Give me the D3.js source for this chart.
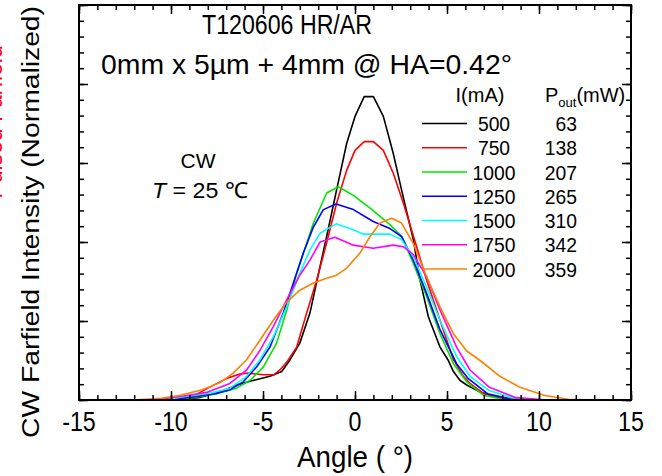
<!DOCTYPE html>
<html>
<head>
<meta charset="utf-8">
<script src="https://cdn.jsdelivr.net/npm/d3@7"></script>
<style>
  body { margin: 0; background: #fff; }
  text { font-family: "Liberation Sans", Arial, Helvetica, sans-serif; fill: #000; }
</style>
</head>
<body>
<svg id="chart" width="662" height="476"></svg>
<script>
const w = 662,
      h = 476;
const margin = {left: 79, right: 31, top: 5, bottom: 76};

// series: [angle (deg), intensity (axis units)]
const s500  = [[-10,0],[-8.5,0.03],[-7.34,0.1],[-6.43,0.19],[-5.5,0.25],[-4.62,0.3],[-3.98,0.36],[-3.53,0.51],[-3,0.72],[-2.45,1.1],[-1.9,1.69],[-1.54,2.07],[-1,2.66],[-0.45,3.25],[0,3.59],[0.5,3.84],[1,3.84],[1.54,3.59],[2.08,3.12],[2.53,2.66],[3.17,2.03],[3.53,1.52],[3.99,1.05],[4.62,0.67],[5.05,0.51],[5.35,0.36],[5.7,0.25],[6.07,0.19],[6.8,0.1],[8,0.02],[9.5,0]];
const s750  = [[-10,0],[-8.86,0.04],[-8,0.15],[-6.9,0.28],[-6.25,0.33],[-5.8,0.34],[-5,0.32],[-4.4,0.32],[-4.08,0.38],[-3.71,0.48],[-3.17,0.67],[-2.63,1.1],[-2.08,1.52],[-1.54,1.99],[-1,2.49],[-0.45,2.91],[0,3.16],[0.5,3.27],[1,3.27],[1.54,3.16],[2.08,2.87],[2.63,2.49],[3.35,1.94],[3.89,1.52],[4.62,1.01],[5.35,0.51],[5.89,0.3],[6.25,0.21],[7,0.08],[8,0.02],[9.5,0]];
const s1000 = [[-10,0],[-8.86,0.03],[-7.5,0.08],[-6.43,0.15],[-5.7,0.25],[-4.98,0.42],[-4.26,0.72],[-3.71,1.14],[-3.17,1.6],[-2.63,1.98],[-2.26,2.24],[-1.9,2.43],[-1.54,2.62],[-0.9,2.7],[-0.09,2.59],[0.82,2.43],[1.9,2.22],[2.53,2.07],[3.17,1.73],[3.89,1.31],[4.62,0.84],[5.35,0.46],[6.07,0.23],[7,0.06],[8,0.01],[9.5,0]];
const s1250 = [[-10,0],[-8.86,0.04],[-7.6,0.08],[-6.8,0.13],[-6.07,0.23],[-5.34,0.42],[-4.62,0.67],[-3.9,1.1],[-3.35,1.48],[-2.81,1.86],[-2.26,2.19],[-1.72,2.41],[-1.03,2.48],[-0.09,2.41],[0.99,2.26],[1.9,2.17],[2.53,2.07],[3.17,1.77],[3.89,1.35],[4.62,0.89],[5.52,0.46],[6.16,0.27],[7.2,0.08],[8.5,0.01],[10,0]];
const s1500 = [[-10.5,0],[-9,0.05],[-7.8,0.09],[-6.8,0.15],[-5.89,0.3],[-5.16,0.51],[-4.44,0.8],[-3.71,1.18],[-3,1.6],[-2.45,1.9],[-1.9,2.11],[-1.03,2.23],[-0.27,2.17],[0.45,2.1],[1.9,2.1],[2.53,2.03],[3.17,1.81],[3.89,1.43],[4.62,1.01],[5.52,0.55],[6.25,0.3],[7.3,0.12],[8.5,0.03],[10,0]];
const s1750 = [[-11,0],[-9.3,0.05],[-8,0.1],[-6.8,0.21],[-5.89,0.38],[-5.16,0.63],[-4.44,0.93],[-3.71,1.27],[-3,1.58],[-2.45,1.77],[-1.9,2],[-1.09,2.06],[-0.09,1.96],[0.99,1.92],[2.08,1.96],[2.63,1.94],[3.17,1.84],[3.89,1.56],[4.62,1.14],[5.52,0.67],[6.25,0.38],[7.3,0.16],[8.75,0.03],[10.5,0]];
const s2000 = [[-12,0],[-10.6,0.02],[-9.5,0.06],[-8.3,0.13],[-7.34,0.22],[-6.62,0.34],[-5.89,0.51],[-5.16,0.76],[-4.44,1.01],[-3.71,1.24],[-3,1.39],[-2.26,1.48],[-1.54,1.54],[-1,1.58],[-0.45,1.67],[0.27,1.86],[0.82,2.07],[1.36,2.24],[1.99,2.3],[2.53,2.24],[3.17,1.98],[3.89,1.56],[4.62,1.18],[5.35,0.84],[6.07,0.62],[6.8,0.5],[7.88,0.3],[8.97,0.16],[10.27,0.06],[11.58,0.01],[13,0]];

const currents = ['500', '750', '1000', '1250', '1500', '1750', '2000'];
const powers   = ['63', '138', '207', '265', '310', '342', '359'];
const colors   = ['#000000', '#ff0000', '#00e600', '#0000ff', '#00ffff', '#ff00ff', '#ff8000'];
const seriesList = [s500, s750, s1000, s1250, s1500, s1750, s2000];

const xTicks = [-15, -10, -5, 0, 5, 10, 15];

const svg = d3.select('#chart');

const x = d3.scaleLinear().domain([-15, 15]).range([margin.left, w - margin.right]);
const y = d3.scaleLinear().domain([0, 5]).range([h - margin.bottom, margin.top]);

// plot curves (clipped to frame)
svg.append('clipPath').attr('id', 'clip').append('rect')
   .attr('x', x(-15)).attr('y', y(5)).attr('width', x(15) - x(-15)).attr('height', y(0) - y(5));

const line = d3.line().x(d => x(d[0])).y(d => y(d[1]));
const g = svg.append('g').attr('clip-path', 'url(#clip)');
seriesList.forEach((s, i) => {
    g.append('path').datum(s)
     .attr('d', line)
     .attr('fill', 'none')
     .attr('stroke', colors[i])
     .attr('stroke-width', 1.6)
     .attr('stroke-linejoin', 'round');
});

// axes: inward ticks on all four sides
const xMinor = d3.range(-15, 16, 1);
const yMinor = d3.range(0, 5.01, 0.2);
const tickAxis = (axisFn, scale, values, size) =>
    axisFn(scale).tickValues(values).tickSize(size).tickFormat('');

const drawAxis = (axis, tx, ty) => {
    const a = svg.append('g').attr('transform', `translate(${tx},${ty})`).call(axis);
    a.select('.domain').remove();
    a.selectAll('line').attr('stroke', '#000').attr('stroke-width', 1.5);
};
// bottom / top
drawAxis(tickAxis(d3.axisTop, x, xMinor, 5), 0, y(0));
drawAxis(tickAxis(d3.axisTop, x, xTicks, 9), 0, y(0));
drawAxis(tickAxis(d3.axisBottom, x, xMinor, 5), 0, y(5));
drawAxis(tickAxis(d3.axisBottom, x, xTicks, 9), 0, y(5));
// left / right
drawAxis(tickAxis(d3.axisRight, y, yMinor, 5), x(-15), 0);
drawAxis(tickAxis(d3.axisRight, y, d3.range(0, 6), 9), x(-15), 0);
drawAxis(tickAxis(d3.axisLeft, y, yMinor, 5), x(15), 0);
drawAxis(tickAxis(d3.axisLeft, y, d3.range(0, 6), 9), x(15), 0);

// frame
svg.append('rect')
   .attr('x', x(-15)).attr('y', y(5))
   .attr('width', x(15) - x(-15)).attr('height', y(0) - y(5))
   .attr('fill', 'none').attr('stroke', '#000').attr('stroke-width', 2);

// x tick labels (narrow, tall type like the original)
svg.append('g').selectAll('text').data(xTicks).enter().append('text')
   .attr('transform', d => `translate(${x(d)},${y(0) + 31}) scale(0.83,1)`)
   .attr('text-anchor', 'middle').attr('font-size', 28)
   .text(d => d);

svg.append('text').attr('x', 355).attr('y', 467)
   .attr('text-anchor', 'middle').attr('font-size', 30)
   .attr('textLength', 116).attr('lengthAdjust', 'spacingAndGlyphs')
   .text('Angle ( °)');

svg.append('text')
   .attr('transform', 'translate(39,222) rotate(-90)')
   .attr('text-anchor', 'middle').attr('font-size', 23)
   .attr('textLength', 432).attr('lengthAdjust', 'spacingAndGlyphs')
   .text('CW Farfield Intensity (Normalized)');

// partly hidden red label at the left edge
svg.append('text')
   .attr('transform', 'translate(2,122) rotate(-90)')
   .attr('text-anchor', 'middle').attr('font-size', 23)
   .style('fill', '#ff0000')
   .text('Pulsed Farfield');

// titles
svg.append('text').attr('x', 202).attr('y', 34)
   .attr('font-size', 27)
   .attr('textLength', 170).attr('lengthAdjust', 'spacingAndGlyphs')
   .text('T120606 HR/AR');
svg.append('text').attr('x', 101).attr('y', 74)
   .attr('font-size', 27)
   .attr('textLength', 411).attr('lengthAdjust', 'spacingAndGlyphs')
   .text('0mm x 5µm + 4mm @ HA=0.42°');

svg.append('text').attr('x', 198).attr('y', 168)
   .attr('text-anchor', 'middle').attr('font-size', 21).text('CW');
const tl = svg.append('text').attr('x', 152).attr('y', 198)
   .attr('font-size', 22)
   .attr('textLength', 96).attr('lengthAdjust', 'spacingAndGlyphs');
tl.append('tspan').attr('font-style', 'italic').text('T');
tl.append('tspan').text(' = 25 ℃');

// legend
const legend = svg.append('g');
legend.append('text').attr('x', 480).attr('y', 102)
   .attr('text-anchor', 'middle').attr('font-size', 20).text('I(mA)');
const pt = legend.append('text').attr('x', 545).attr('y', 102).attr('font-size', 20);
pt.append('tspan').text('P');
pt.append('tspan').attr('font-size', 13).attr('dy', 5).text('out');
pt.append('tspan').attr('dy', -5).text('(mW)');

const rowY = d3.scaleLinear().domain([0, 6]).range([123.5, 269]);
currents.forEach((c, i) => {
    const yy = rowY(i);
    legend.append('line')
       .attr('x1', 422).attr('x2', 467).attr('y1', yy).attr('y2', yy)
       .attr('stroke', colors[i]).attr('stroke-width', 1.6);
    legend.append('text')
       .attr('transform', `translate(494,${yy + 7.5}) scale(0.92,1)`)
       .attr('text-anchor', 'middle').attr('font-size', 21).text(c);
    legend.append('text')
       .attr('transform', `translate(577,${yy + 7.5}) scale(0.92,1)`)
       .attr('text-anchor', 'end').attr('font-size', 21).text(powers[i]);
});
</script>
</body>
</html>
